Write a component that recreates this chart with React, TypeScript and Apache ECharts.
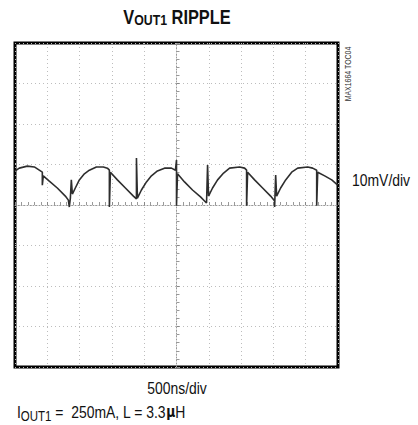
import React, { useEffect, useRef } from "react";
import * as echarts from "echarts";

// time relative to screen centre (ns), 500 ns/div, 10 divisions
const timeNs = [
  -2500, -2434, -2310, -2201, -2124, -2077, -2077, -2062, -1969, -1845, -1721, -1674, -1659, -1643, -1628, -1612,
  -1566, -1504, -1426, -1349, -1240, -1132, -1070, -1039, -1039, -1023, -915, -791, -667, -620, -620, -605,
  -543, -465, -388, -295, -186, -78, -16, 0, 0, 16, 124, 248, 372, 434, 465, 481, 496,
  558, 636, 729, 822, 977, 1054, 1085, 1085, 1101, 1209, 1333, 1457, 1519, 1519, 1535, 1550,
  1612, 1690, 1783, 1876, 2031, 2108, 2170, 2170, 2186, 2294, 2403, 2496,
];
// ripple voltage (mV), 10 mV/div, 8 divisions
const rippleMv = [
  8.4, 9.1, 9.6, 9.4, 8.6, 8.1, 4.9, 7.2, 5.9, 4.2, 2.2, 1.2, -0.5, 1.7, 6.2, 2.7,
  4.2, 6.2, 7.7, 8.6, 9.4, 9.4, 9.1, 8.6, -0.5, 8.1, 6.2, 4.2, 2.2, 1.5, 11.6, 1.7,
  3.7, 5.7, 7.2, 8.4, 9.1, 9.1, 8.6, 11.1, -0.2, 7.7, 5.7, 3.7, 2.0, 1.0, 0.5, 9.9, 2.2,
  4.2, 6.2, 7.9, 9.1, 9.4, 9.1, 8.6, -0.2, 8.1, 6.2, 4.2, 2.2, 1.0, -0.5, 7.4, 2.2,
  4.2, 6.2, 8.1, 9.1, 9.4, 9.1, 8.6, -0.2, 8.1, 7.2, 6.2, 4.9,
];

const xRange = [-2500, 2500];
const yRange = [-40, 40];
const xDiv = 500;
const yDiv = 10;

const titleMain = "V";
const titleSub = "OUT1";
const titleRest = " RIPPLE";
const yScaleLabel = "10mV/div";
const xScaleLabel = "500ns/div";
const noteMain = "I";
const noteSub = "OUT1";
const noteRest = " =  250mA, L = 3.3";
const noteMu = "µ";
const noteUnit = "H";
const tocLabel = "MAX1664 TOC04";

const FONT = "'Liberation Sans', Arial, sans-serif";
const NARROW = 0.82;

export default function App() {
  const ref = useRef<HTMLDivElement>(null);
  useEffect(() => {
    if (!ref.current) return;
    const chart = echarts.init(ref.current, undefined, { renderer: "svg" });
    const data = timeNs.map((t, i) => [t, rippleMv[i]]);
    const dotted = { color: "#bdbdbd", width: 1, type: [1, 3] as any };
    chart.setOption({
      animation: false,
      backgroundColor: "#ffffff",
      grid: {
        left: 15,
        top: 43,
        width: 323,
        height: 324,
        show: true,
        borderColor: "#000",
        borderWidth: 3,
        backgroundColor: "transparent",
      },
      xAxis: {
        type: "value",
        min: xRange[0],
        max: xRange[1],
        interval: xDiv,
        axisLabel: { show: false },
        axisLine: { show: true, onZero: true, lineStyle: { color: "#999", width: 1, type: [1, 2] } },
        axisTick: { show: true, length: 3, inside: true, lineStyle: { color: "#888" } },
        minorTick: { show: true, splitNumber: 5, length: 3, lineStyle: { color: "#999" } },
        splitLine: { show: true, lineStyle: dotted },
      },
      yAxis: {
        type: "value",
        min: yRange[0],
        max: yRange[1],
        interval: yDiv,
        axisLabel: { show: false },
        axisLine: { show: true, onZero: true, lineStyle: { color: "#999", width: 1, type: [1, 2] } },
        axisTick: { show: true, length: 3, inside: true, lineStyle: { color: "#888" } },
        minorTick: { show: true, splitNumber: 5, length: 3, lineStyle: { color: "#999" } },
        splitLine: { show: true, lineStyle: dotted },
      },
      series: [
        {
          type: "line",
          data,
          showSymbol: false,
          symbol: "none",
          lineStyle: { color: "#2e2e2e", width: 1.6 },
          z: 5,
        },
      ],
      graphic: [
        {
          type: "text",
          x: 177,
          y: 17,
          scaleX: NARROW,
          style: {
            text: `{m|${titleMain}}{s|${titleSub}}{m|${titleRest}}`,
            align: "center",
            verticalAlign: "middle",
            rich: {
              m: { fontFamily: FONT, fontWeight: "bold", fontSize: 20, fill: "#111" },
              s: { fontFamily: FONT, fontWeight: "bold", fontSize: 15, fill: "#111", padding: [7, 0, 0, 0] },
            },
          },
        },
        {
          type: "text",
          x: 352,
          y: 180,
          scaleX: NARROW,
          style: {
            text: yScaleLabel,
            fontFamily: FONT,
            fontSize: 17,
            fill: "#111",
            verticalAlign: "middle",
          },
        },
        {
          type: "text",
          x: 177,
          y: 388,
          scaleX: NARROW,
          style: {
            text: xScaleLabel,
            fontFamily: FONT,
            fontSize: 17,
            fill: "#111",
            align: "center",
            verticalAlign: "middle",
          },
        },
        {
          type: "text",
          x: 17,
          y: 412,
          scaleX: NARROW,
          style: {
            text: `{m|${noteMain}}{s|${noteSub}}{m|${noteRest}}{u|${noteMu}}{m|${noteUnit}}`,
            verticalAlign: "middle",
            rich: {
              m: { fontFamily: FONT, fontSize: 17, fill: "#111" },
              s: { fontFamily: FONT, fontSize: 14, fill: "#111", padding: [8, 0, 0, 0] },
              u: { fontFamily: "'DejaVu Sans', sans-serif", fontWeight: "bold", fontSize: 15, fill: "#111" },
            },
          },
        },
        {
          type: "text",
          x: 348,
          y: 74,
          rotation: Math.PI / 2,
          scaleX: NARROW,
          style: {
            text: tocLabel,
            fontFamily: FONT,
            fontSize: 8.5,
            fill: "#333",
            align: "center",
            verticalAlign: "middle",
          },
        },
      ],
    });
    return () => chart.dispose();
  }, []);
  return (
    <div
      ref={ref}
      style={{ position: "fixed", left: 0, top: 0, width: 418, height: 425 }}
    />
  );
}
